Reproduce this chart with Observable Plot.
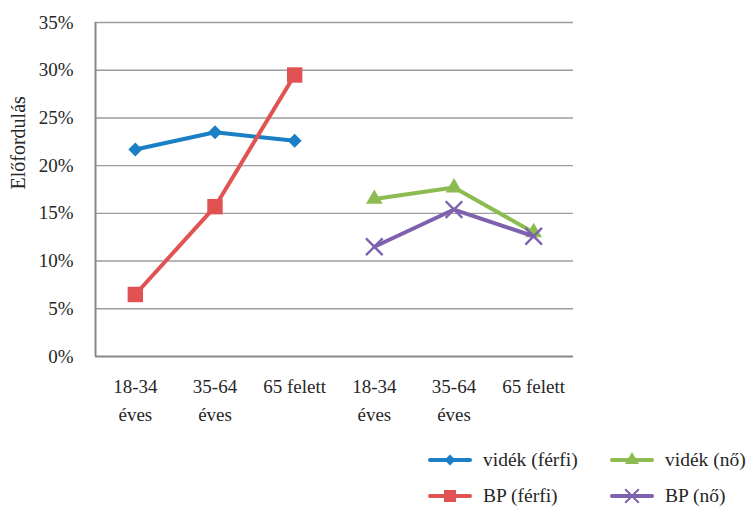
<!DOCTYPE html>
<html>
<head>
<meta charset="utf-8">
<script src="https://cdn.jsdelivr.net/npm/d3@7"></script>
<script src="https://cdn.jsdelivr.net/npm/@observablehq/plot@0.6"></script>
<style>
  body { margin: 0; background: white; }
  #wrap { position: relative; width: 753px; height: 508px; font-family: 'Liberation Serif', serif; color: #262626; }
  .leg { position: absolute; display: flex; align-items: center; font-family: 'Liberation Serif', serif; font-size: 19.5px; white-space: nowrap; }
  .leg svg { margin-right: 11px; }
  #wrap svg text { font-family: 'Liberation Serif', serif; }
</style>
</head>
<body>
<div id="wrap"></div>
<script>
const xLabels = ["18-34\néves", "35-64\néves", "65 felett", "18-34\néves", "35-64\néves", "65 felett"];
const yTicks = [0, 5, 10, 15, 20, 25, 30, 35];
const yLabel = "Előfordulás";
const seriesNames = ["vidék (férfi)", "BP (férfi)", "vidék (nő)", "BP (nő)"];
const seriesColors = ["#1a7fc4", "#e15252", "#8cbc51", "#7e62ae"];
const seriesSymbols = ["diamond2", "square", "triangle", "times"];
const seriesSizes = [6.3, 8.7, 6.2, 7.6];
const legendSizes = [5.0, 6.8, 5.2, 6.2];
const seriesX = [[0, 1, 2], [0, 1, 2], [3, 4, 5], [3, 4, 5]];
const videkFerfi = [21.7, 23.5, 22.6];
const bpFerfi = [6.5, 15.7, 29.5];
const videkNo = [16.5, 17.7, 13.0];
const bpNo = [11.5, 15.4, 12.6];
const seriesValues = [videkFerfi, bpFerfi, videkNo, bpNo];

const FONT = "Liberation Serif";
const marks = [
  Plot.ruleY(yTicks.filter(d => d > 0), {stroke: "#9c9c9c", strokeWidth: 1.4}),
  Plot.ruleY([0], {stroke: "#878787", strokeWidth: 2}),
  Plot.ruleX([-0.5], {stroke: "#878787", strokeWidth: 2}),
  Plot.axisY({ticks: yTicks, tickSize: 0, tickPadding: 22, tickFormat: d => d + "%", label: null, fontSize: 19, fontFamily: FONT}),
  Plot.axisX({ticks: [0, 1, 2, 3, 4, 5], tickSize: 0, tickPadding: 17, tickFormat: i => xLabels[i], label: null, lineHeight: 1.45, fontSize: 19, fontFamily: FONT}),
  Plot.text([yLabel], {frameAnchor: "left", rotate: -90, dx: -77, fontSize: 20, fontFamily: FONT})
];
seriesNames.forEach((name, k) => {
  const rows = seriesValues[k].map((v, j) => ({x: seriesX[k][j], y: v}));
  marks.push(Plot.line(rows, {x: "x", y: "y", stroke: seriesColors[k], strokeWidth: 4}));
  const sym = seriesSymbols[k];
  if (sym === "times") {
    marks.push(Plot.dot(rows, {x: "x", y: "y", symbol: sym, r: seriesSizes[k], stroke: seriesColors[k], strokeWidth: 2.4, fill: "none"}));
  } else {
    marks.push(Plot.dot(rows, {x: "x", y: "y", symbol: sym, r: seriesSizes[k], fill: seriesColors[k], stroke: "none"}));
  }
});

const chart = Plot.plot({
  width: 753, height: 440,
  marginLeft: 95, marginRight: 180, marginTop: 22, marginBottom: 84,
  style: "font-family: 'Liberation Serif', serif; font-size: 19px; color: #262626; background: white; overflow: visible;",
  x: {domain: [-0.5, 5.5], axis: null},
  y: {domain: [0, 35], axis: null},
  marks
});
const wrap = document.getElementById("wrap");
chart.style.position = "absolute";
chart.style.left = "0px";
chart.style.top = "0px";
wrap.appendChild(chart);

// legend
const legPos = [[428, 460], [428, 496], [610, 460], [610, 496]];
const symTypes = {diamond2: d3.symbolDiamond2, square: d3.symbolSquare, triangle: d3.symbolTriangle, times: d3.symbolTimes};
seriesNames.forEach((name, k) => {
  const div = document.createElement("div");
  div.className = "leg";
  div.style.left = legPos[k][0] + "px";
  div.style.top = (legPos[k][1] - 12) + "px";
  div.style.height = "24px";
  const c = seriesColors[k];
  const sym = seriesSymbols[k];
  const path = d3.symbol(symTypes[sym], Math.PI * legendSizes[k] * legendSizes[k])();
  const markFill = sym === "times" ? `fill="none" stroke="${c}" stroke-width="2"` : `fill="${c}"`;
  div.innerHTML = `<svg width="44" height="24"><line x1="2" x2="42" y1="12" y2="12" stroke="${c}" stroke-width="4" stroke-linecap="round"/><path transform="translate(22,12)" d="${path}" ${markFill}/></svg><span>${name}</span>`;
  wrap.appendChild(div);
});
</script>
</body>
</html>
